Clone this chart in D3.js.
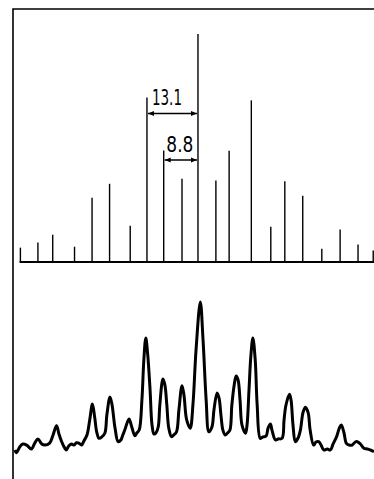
<!DOCTYPE html>
<html>
<head>
<meta charset="utf-8">
<script src="https://cdn.jsdelivr.net/npm/d3@7"></script>
<style>
  html, body { margin: 0; padding: 0; background: #fff; }
</style>
</head>
<body>
<div id="viz"></div>
<script>
// stick spectrum (upper panel): position relative to the main line, relative intensity
const stickPos = [-45.6, -41.1, -37.3, -31.7, -27.2, -22.7, -17.4, -13.1, -8.8, -4.1, 0,
                  4.6, 8.0, 13.7, 18.7, 22.3, 26.9, 31.8, 36.5, 41.1, 45.0];
const stickInt = [6.3, 8.5, 12.0, 6.7, 28.2, 34.3, 15.9, 72.1, 48.9, 36.5, 100,
                  35.8, 48.8, 70.9, 15.5, 35.4, 29.1, 5.8, 14.3, 7.7, 5.0];

// measured trace (lower panel)
const traceX = [-47.0, -46.6, -45.8, -45.0, -44.0, -42.8, -41.9, -41.1, -40.1, -39.3, -38.1, -37.3,
  -36.3, -35.7, -35.0, -34.5, -33.8, -33.2, -32.5, -31.9, -31.2, -30.6, -29.9, -29.3, -28.5, -27.8,
  -27.1, -26.5, -26.0, -25.4, -24.7, -23.9, -23.4, -22.6, -22.1, -21.3, -20.5, -19.8, -19.3, -18.8,
  -17.7, -17.0, -16.2, -15.7, -15.1, -14.4, -13.9, -13.4, -12.9, -12.3, -11.8, -11.3, -10.8, -10.2,
  -9.8, -9.0, -8.5, -8.0, -7.5, -6.8, -6.2, -5.5, -4.9, -4.1, -3.6, -2.9, -2.0, -1.3, -0.5, 0.6,
  1.3, 2.1, 2.8, 3.6, 4.1, 4.9, 5.4, 5.9, 6.4, 7.0, 7.6, 8.2, 8.7, 9.3, 9.8, 10.3, 10.8, 11.3, 12.2,
  12.6, 13.1, 13.6, 14.1, 14.7, 15.2, 16.0, 16.7, 17.5, 18.0, 18.6, 19.0, 19.9, 20.6, 21.6, 22.1,
  22.6, 23.5, 23.9, 24.4, 25.0, 25.7, 26.3, 27.0, 27.6, 28.3, 28.8, 29.7, 30.3, 31.0, 31.6, 32.3,
  33.2, 34.0, 34.7, 35.6, 36.3, 36.8, 37.5, 38.1, 38.8, 39.6, 40.4, 40.9, 41.7, 42.6, 43.5, 44.2, 45.2];
const traceY = [3.3, 1.5, 5.2, 7.2, 6.5, 3.9, 7.8, 10.5, 7.2, 6.5, 7.8, 12.4,
  19.2, 13.7, 8.7, 5.9, 3.3, 5.9, 7.2, 6.5, 8.0, 7.8, 6.5, 9.2, 13.1, 22.9,
  33.3, 24.2, 15.0, 10.9, 11.8, 14.4, 26.1, 37.9, 33.3, 17.6, 8.7, 9.8, 13.1, 16.3,
  23.5, 18.3, 12.6, 14.4, 16.3, 35.9, 62.1, 76.5, 65.4, 42.5, 19.6, 13.7, 14.4, 18.5,
  32.7, 49.7, 45.8, 32.7, 17.6, 12.0, 13.1, 15.2, 29.4, 45.3, 39.2, 22.9, 17.5, 32.7, 68.6, 100,
  75.2, 35.9, 15.2, 18.5, 29.4, 40.5, 37.3, 26.1, 16.3, 13.1, 14.4, 16.3, 32.7, 45.8, 51.6, 49.0, 35.9, 19.6, 14.2,
  19.6, 42.5, 65.4, 76.5, 62.1, 32.7, 10.9, 11.8, 12.4, 17.6, 20.3, 16.3, 9.8, 10.5, 10.9, 22.9,
  32.7, 39.7, 35.9, 19.6, 8.7, 11.1, 16.3, 28.1, 31.2, 27.5, 16.3, 6.5, 8.5, 8.7, 6.5, 3.3,
  3.9, 3.3, 7.2, 12.0, 17.6, 19.6, 14.4, 7.6, 6.5, 6.5, 8.5, 8.7, 7.2, 4.4, 3.9, 3.3, 2.2];

// splittings marked on the stick spectrum
const splitValues = [13.1, 8.8];
const splitLabels = ["13.1", "8.8"];

const width = 374, height = 479;

const svg = d3.select("#viz")
              .append("svg")
              .attr("width", width)
              .attr("height", height);

const x = d3.scaleLinear().domain([-47.5, 45.2]).range([13, 374]);
const yStick = d3.scaleLinear().domain([0, 100]).range([262, 34]);
const yTrace = d3.scaleLinear().domain([0, 100]).range([455, 302]);

// frame: left rule and top rule
svg.append("path")
   .attr("d", `M${x(-47.5)},${height} V9 H${width}`)
   .attr("fill", "none")
   .attr("stroke", "#000")
   .attr("stroke-width", 1.6);

// baseline of the stick spectrum
svg.append("line")
   .attr("x1", x(-45.8)).attr("x2", width)
   .attr("y1", yStick(0)).attr("y2", yStick(0))
   .attr("stroke", "#000")
   .attr("stroke-width", 2);

svg.selectAll("line.stick")
   .data(stickPos)
   .enter()
   .append("line")
   .attr("class", "stick")
   .attr("x1", d => x(d)).attr("x2", d => x(d))
   .attr("y1", yStick(0))
   .attr("y2", (d, i) => yStick(stickInt[i]))
   .attr("stroke", "#000")
   .attr("stroke-width", 1.4);

// arrow heads
const defs = svg.append("defs");
defs.append("marker")
    .attr("id", "arrow")
    .attr("viewBox", "0 0 10 10")
    .attr("refX", 10).attr("refY", 5)
    .attr("markerWidth", 6).attr("markerHeight", 6)
    .attr("markerUnits", "userSpaceOnUse")
    .attr("orient", "auto-start-reverse")
    .append("path")
    .attr("d", "M0,1 L10,5 L0,9 Z")
    .attr("fill", "#000");

const splitY = [113.5, 160];
const labelY = [105, 151.5];
const labelW = [30, 27];
const labelShift = [-5.5, -1];

splitValues.forEach((v, i) => {
    svg.append("line")
       .attr("x1", x(-v) + 1).attr("x2", x(0) - 1)
       .attr("y1", splitY[i]).attr("y2", splitY[i])
       .attr("stroke", "#000")
       .attr("stroke-width", 1.4)
       .attr("marker-start", "url(#arrow)")
       .attr("marker-end", "url(#arrow)");

    svg.append("text")
       .attr("x", (x(-v) + x(0)) / 2 + labelShift[i])
       .attr("y", labelY[i])
       .attr("text-anchor", "middle")
       .attr("font-family", "'DejaVu Sans', sans-serif")
       .attr("font-size", 20.5)
       .attr("textLength", labelW[i])
       .attr("lengthAdjust", "spacingAndGlyphs")
       .attr("fill", "#000")
       .text(splitLabels[i]);
});

// measured trace
const line = d3.line()
               .x((d, i) => x(traceX[i]))
               .y(d => yTrace(d))
               .curve(d3.curveCatmullRom.alpha(0.5));

svg.append("path")
   .datum(traceY)
   .attr("d", line)
   .attr("fill", "none")
   .attr("stroke", "#000")
   .attr("stroke-width", 3)
   .attr("stroke-linejoin", "round");
</script>
</body>
</html>
